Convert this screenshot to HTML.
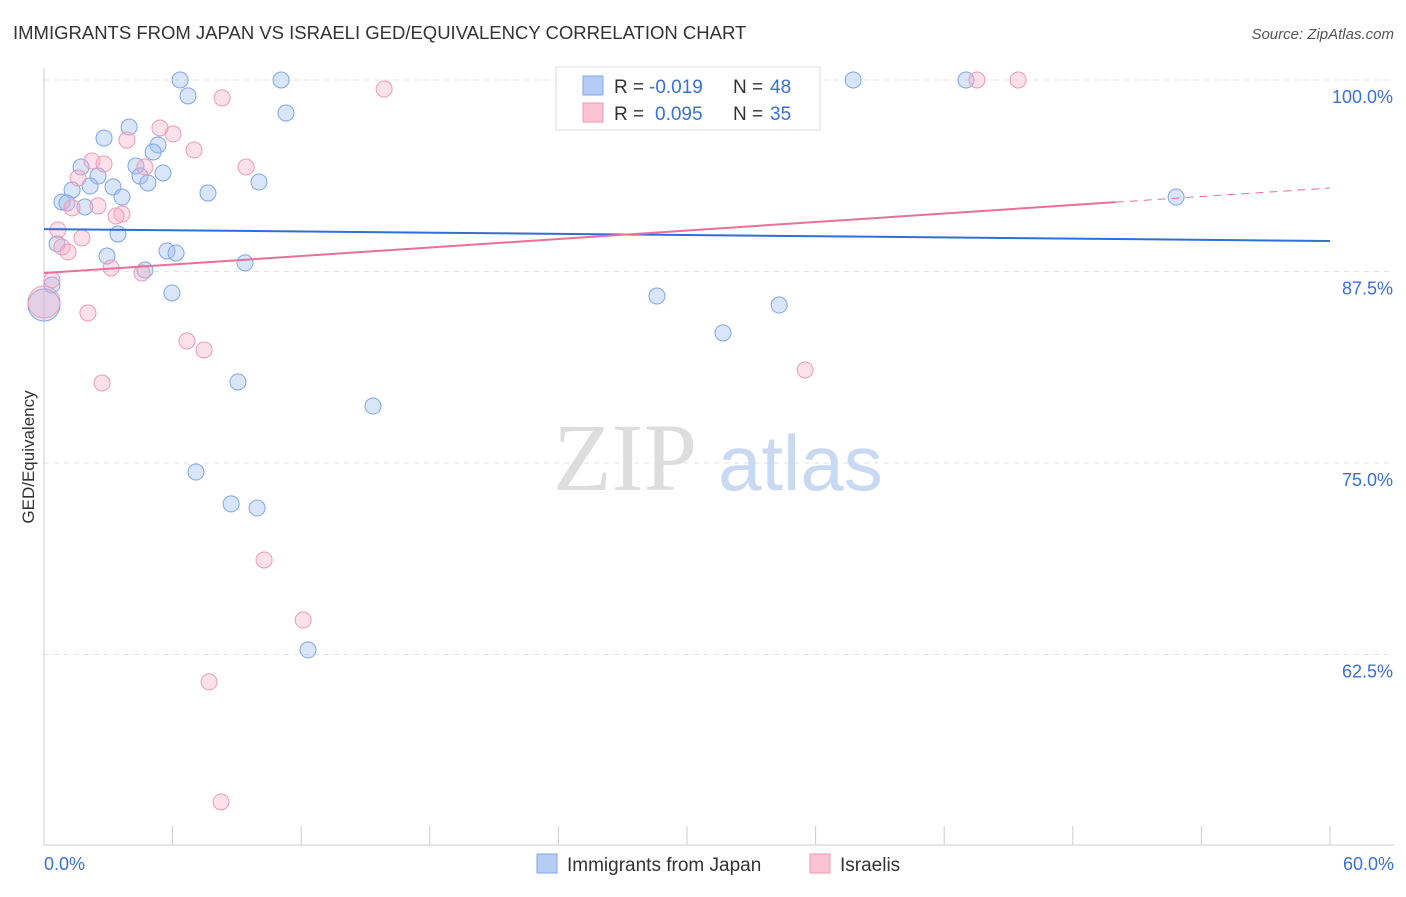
<!DOCTYPE html>
<html><head><meta charset="utf-8"><style>
body{margin:0;background:#fff;font-family:"Liberation Sans",sans-serif;}
</style></head><body>
<svg width="1406" height="892" viewBox="0 0 1406 892" xmlns="http://www.w3.org/2000/svg" font-family="Liberation Sans, sans-serif">
<text x="13" y="39" font-size="18.5" fill="#333">IMMIGRANTS FROM JAPAN VS ISRAELI GED/EQUIVALENCY CORRELATION CHART</text>
<text x="1394" y="39" font-size="15" fill="#555" text-anchor="end" font-style="italic">Source: ZipAtlas.com</text>
<g id="grid"></g>
<text x="553" y="490" font-size="96" fill="#ddd" font-family="Liberation Serif, serif">ZIP</text>
<text x="718" y="490" font-size="78" fill="#c9d9f2">atlas</text>
<text transform="translate(34,457) rotate(-90)" font-size="17" fill="#333" text-anchor="middle">GED/Equivalency</text>
<g id="marks"></g>
<g>
<rect x="556" y="67" width="264" height="63" fill="#fff" stroke="#ddd"/>
<rect x="583" y="76" width="20" height="19" fill="#b5cdf5" stroke="#7fa6e6"/>
<rect x="583" y="103" width="20" height="19" fill="#f9c3d3" stroke="#ee9ab5"/>
<text x="614" y="93" font-size="19" fill="#333">R =</text>
<text x="649" y="93" font-size="19" fill="#3a70d6">-0.019</text>
<text x="733" y="93" font-size="19" fill="#333">N =</text>
<text x="770" y="93" font-size="19" fill="#3a70d6">48</text>
<text x="614" y="120" font-size="19" fill="#333">R =</text>
<text x="655" y="120" font-size="19" fill="#3a70d6">0.095</text>
<text x="733" y="120" font-size="19" fill="#333">N =</text>
<text x="770" y="120" font-size="19" fill="#3a70d6">35</text>
</g>
<g>
<rect x="537" y="854" width="20" height="19" fill="#b5cdf5" stroke="#7fa6e6"/>
<text x="567" y="871" font-size="19" fill="#333">Immigrants from Japan</text>
<rect x="810" y="854" width="20" height="19" fill="#f9c3d3" stroke="#ee9ab5"/>
<text x="840" y="871" font-size="19" fill="#333">Israelis</text>
</g>
</svg>
<script>
const yTicks=[100,87.5,75,62.5];
const yTickLabels=["100.0%","87.5%","75.0%","62.5%"];
const blueX=[6.35,11.06,37.75,43.02,6.72,11.29,3.97,2.80,5.32,5.09,1.73,4.29,5.55,2.52,4.48,4.85,10.03,1.31,2.15,3.22,7.65,3.64,0.84,1.07,1.91,52.82,3.45,0.61,5.74,6.16,2.94,9.38,4.71,0.37,5.97,28.60,34.30,0,31.68,9.05,15.35,7.09,8.73,9.94,12.32];
const blueY=[100,100,100,100,98.96,97.85,96.93,96.21,95.76,95.30,94.32,94.39,93.93,93.73,93.73,93.28,93.34,92.82,93.08,93.02,92.62,92.36,92.04,91.97,91.71,92.36,89.95,89.30,88.84,88.71,88.51,88.06,87.60,86.62,86.10,85.90,85.31,85.31,83.49,80.29,78.72,74.41,72.33,72.06,62.80];
const pinkX=[43.53,45.45,15.87,8.31,5.41,6.02,3.87,7.00,2.24,2.80,9.43,4.71,1.59,2.52,1.31,3.64,3.36,0.65,1.77,0.84,1.12,3.13,4.57,0.37,0,2.05,6.67,7.47,2.71,35.51,10.27,12.09,7.70,8.26];
const pinkY=[100,100,99.41,98.83,96.87,96.48,96.08,95.43,94.71,94.52,94.32,94.32,93.60,91.78,91.65,91.25,91.12,90.21,89.69,89.10,88.77,87.73,87.40,86.95,85.51,84.79,82.96,82.38,80.22,81.07,68.67,64.75,60.71,52.88];
const blueLine=[90.27,89.49];
const pinkLine=[87.40,92.95];
const pinkSolidEnd=50;
const NS="http://www.w3.org/2000/svg";
const X=v=>44+v/60*1286;
const Y=v=>80+(100-v)/12.5*191.5;
function mk(tag,attrs,parent){const e=document.createElementNS(NS,tag);for(const k in attrs)e.setAttribute(k,attrs[k]);parent.appendChild(e);return e;}
const grid=document.getElementById('grid');
yTicks.forEach((t,i)=>{
 const l=mk('line',{x1:44,x2:1394,y1:Y(t),y2:Y(t),stroke:'#e2e2e2','stroke-dasharray':'5,5'},grid);
 
 
 const tx=mk('text',{x:1393,y:Y(t)+23,'font-size':18,fill:'#3a70d6','text-anchor':'end'},grid);
 tx.textContent=yTickLabels[i];
 
 
});
const ax=mk('line',{x1:44,x2:1394,y1:845,y2:845,stroke:'#ccc'},grid);


const ay=mk('line',{x1:44,x2:44,y1:68,y2:845,stroke:'#ccc'},grid);


for(let i=0;i<=10;i++){const t=mk('line',{x1:X(i*6),x2:X(i*6),y1:826,y2:845,stroke:'#ccc'},grid);
 
 }
const xl=mk('text',{x:44,y:870,'font-size':18,fill:'#3a70d6'},grid);xl.textContent='0.0%';


const xr=mk('text',{x:1394,y:870,'font-size':18,fill:'#3a70d6','text-anchor':'end'},grid);xr.textContent='60.0%';


const marks=document.getElementById('marks');
function pts(xs,ys,fill,stroke,name){xs.forEach((x,i)=>{
 const big=(x===0);
 const c=mk('circle',{cx:X(x),cy:Y(ys[i]),r:big?16:8,fill:fill,stroke:stroke,'stroke-width':1},marks);
 
 
});}
pts(blueX,blueY,'rgba(160,190,240,0.4)','#7fa6e6','japan-point');
pts(pinkX,pinkY,'rgba(245,170,195,0.35)','#ee9ab5','israeli-point');
const bl=mk('line',{x1:X(0),y1:Y(blueLine[0]),x2:X(60),y2:Y(blueLine[1]),stroke:'#2f6fd6','stroke-width':2},marks);


const py=x=>pinkLine[0]+(pinkLine[1]-pinkLine[0])*x/60;
const pl=mk('line',{x1:X(0),y1:Y(py(0)),x2:X(pinkSolidEnd),y2:Y(py(pinkSolidEnd)),stroke:'#e8709a','stroke-width':2},marks);


const pd=mk('line',{x1:X(pinkSolidEnd),y1:Y(py(pinkSolidEnd)),x2:X(60),y2:Y(py(60)),stroke:'#e8709a','stroke-width':1,'stroke-dasharray':'8,6'},marks);


</script>
</body></html>
